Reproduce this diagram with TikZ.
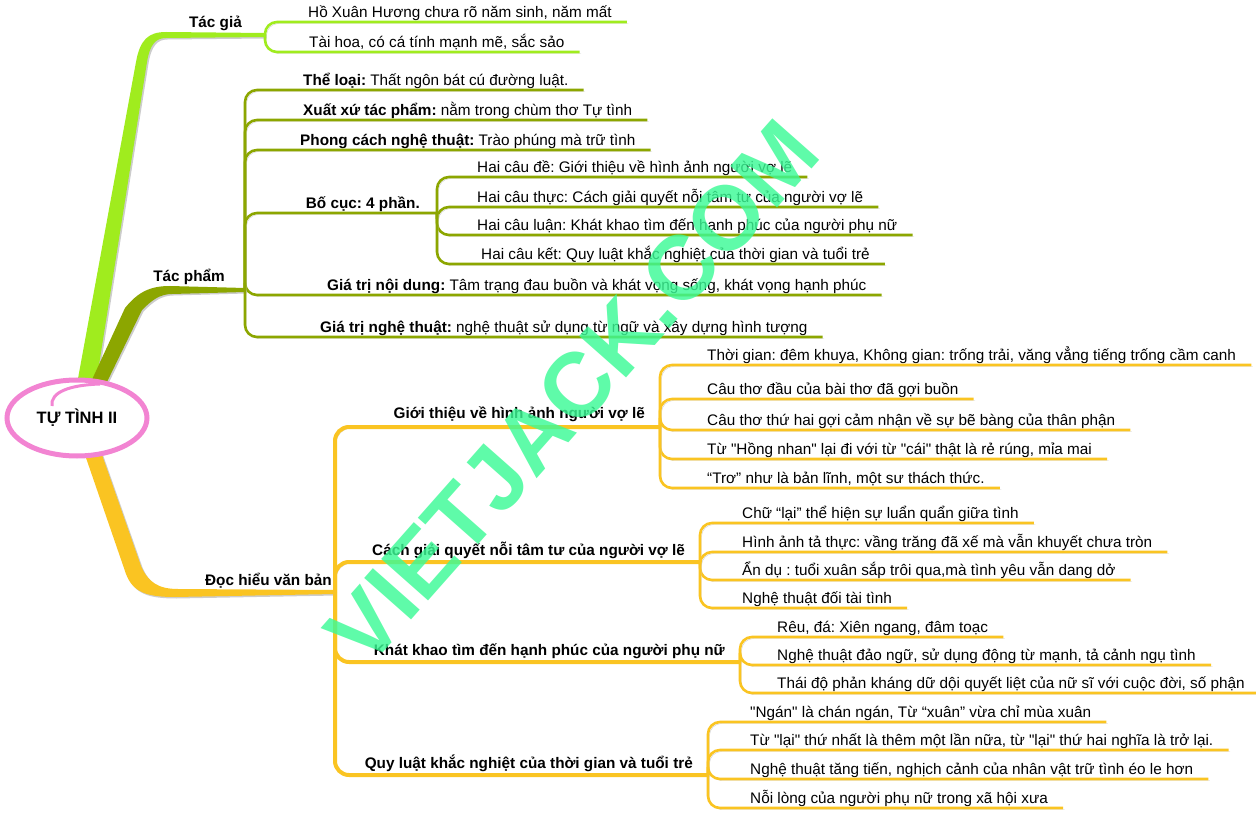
\documentclass[tikz,border=0pt]{standalone}
\usepackage{fontspec}
\setmainfont{Liberation Sans}[Ligatures=TeXOff]
\frenchspacing
\usetikzlibrary{calc,positioning,shapes.geometric}
\definecolor{tgGreen}{RGB}{160,236,30}
\definecolor{tpOlive}{RGB}{140,166,0}
\definecolor{dhYellow}{RGB}{250,196,34}
\definecolor{rootPink}{RGB}{242,132,210}
\definecolor{wmGreen}{RGB}{60,250,150}
\tikzset{
  shadowed/.style={preaction={draw=black!20, transform canvas={shift={(1.5pt,-1.5pt)}}}},
  limbshadow/.style={preaction={fill=black!20, transform canvas={shift={(1.5pt,-1.5pt)}}}},
  root/.style={ellipse, draw=rootPink, fill=white, line width=5pt, minimum width=140pt,
    minimum height=76pt, font=\bfseries\fontsize{16.5}{20}\selectfont},
  leaf/.style={anchor=south west, inner xsep=0pt, inner ysep=4pt, text depth=0pt,
    font=\fontsize{15.3}{18}\selectfont},
  topic/.style={inner sep=0pt, text depth=0pt, font=\bfseries\fontsize{15.3}{18}\selectfont},
  twig/.style={line width=2.6pt, rounded corners=12pt, shadowed},
  bough/.style={line width=4pt, rounded corners=14pt, shadowed},
  watermark/.style={text=wmGreen, opacity=0.82, font=\bfseries\fontsize{91}{100}\selectfont}
}

\begin{document}
\begin{tikzpicture}[x=1pt,y=-1pt]
  \useasboundingbox (0,0) rectangle (1256,818);

  % main limbs
  \fill[tgGreen, limbshadow] (77,384) -- (136,62) .. controls (140,40) and (148,32) .. (166,32)
    -- (265,33) -- (265,37) -- (166,38) .. controls (156,38) and (150,44) .. (147,62) -- (96,384) -- cycle;
  \fill[tpOlive, limbshadow] (90,384) -- (125,308) .. controls (138,292) and (150,286) .. (170,286)
    -- (245,288) -- (245,292) -- (172,294) .. controls (160,294) and (152,300) .. (142,310) -- (106,384) -- cycle;
  \fill[dhYellow, limbshadow] (84,452) -- (126,574) .. controls (133,592) and (146,597) .. (175,597)
    -- (335,594) -- (335,590) -- (178,589) .. controls (158,589) and (148,582) .. (141,566) -- (101,452) -- cycle;

  \node[root] (root) at (77,418) {TỰ TÌNH II};
  \draw[rootPink, line width=3pt] (52,406) .. controls (50,392) and (70,385) .. (100,384);

  \coordinate (tg) at (265,35);
  \coordinate (tp) at (245,290);
  \coordinate (dh) at (335,592);
  \node[topic, above left=7pt and 23pt of tg] {Tác giả};
  \node[topic, above left=8pt and 20pt of tp] {Tác phẩm};
  \node[topic, above left=6pt and 3pt of dh] {Đọc hiểu văn bản};

  % Tác giả
  \node[leaf] (tg1) at (308,22) {Hồ Xuân Hương chưa rõ năm sinh, năm mất};
  \node[leaf] (tg2) at (309,52) {Tài hoa, có cá tính mạnh mẽ, sắc sảo};
  \draw[twig, tgGreen] (tg) |- ($(tg1.south east)+(15,0)$);
  \draw[twig, tgGreen] (tg) |- ($(tg2.south east)+(15,0)$);

  % Tác phẩm
  \node[leaf] (tp1) at (303,90) {\textbf{Thể loại:} Thất ngôn bát cú đường luật.};
  \node[leaf] (tp2) at (303,120) {\textbf{Xuất xứ tác phẩm:} nằm trong chùm thơ Tự tình};
  \node[leaf] (tp3) at (300,150) {\textbf{Phong cách nghệ thuật:} Trào phúng mà trữ tình};
  \node[leaf] (tp4) at (327,295) {\textbf{Giá trị nội dung:} Tâm trạng đau buồn và khát vọng sống, khát vọng hạnh phúc};
  \node[leaf] (tp5) at (320,337) {\textbf{Giá trị nghệ thuật:} nghệ thuật sử dụng từ ngữ và xây dựng hình tượng};
  \foreach \n in {tp1,tp2,tp3,tp4,tp5}
    \draw[twig, tpOlive] (tp) |- ($(\n.south east)+(15,0)$);

  \coordinate (bc) at (437,213);
  \draw[twig, tpOlive] (tp) |- (bc);
  \node[topic, above left=4pt and 17pt of bc] {Bố cục: 4 phần.};
  \node[leaf] (bc1) at (477,177) {Hai câu đề: Giới thiệu về hình ảnh người vợ lẽ};
  \node[leaf] (bc2) at (477,207) {Hai câu thực: Cách giải quyết nỗi tâm tư của người vợ lẽ};
  \node[leaf] (bc3) at (477,235) {Hai câu luận: Khát khao tìm đến hạnh phúc của người phụ nữ};
  \node[leaf] (bc4) at (481,264) {Hai câu kết: Quy luật khắc nghiệt của thời gian và tuổi trẻ};
  \foreach \n in {bc1,bc2,bc3,bc4}
    \draw[twig, tpOlive] (bc) |- ($(\n.south east)+(15,0)$);

  % Đọc hiểu văn bản
  \coordinate (gt) at (660,427);
  \coordinate (cg) at (700,562);
  \coordinate (kk) at (740,662);
  \coordinate (ql) at (708,775);
  \foreach \n in {gt,cg,kk,ql}
    \draw[bough, dhYellow] (dh) |- (\n);
  \node[topic, above left=8pt and 15pt of gt] {Giới thiệu về hình ảnh người vợ lẽ};
  \node[topic, above left=6pt and 15pt of cg] {Cách giải quyết nỗi tâm tư của người vợ lẽ};
  \node[topic, above left=6pt and 15pt of kk] {Khát khao tìm đến hạnh phúc của người phụ nữ};
  \node[topic, above left=6pt and 15pt of ql] {Quy luật khắc nghiệt của thời gian và tuổi trẻ};

  \node[leaf] (gt1) at (707,365) {Thời gian: đêm khuya, Không gian: trống trải, văng vẳng tiếng trống cầm canh};
  \node[leaf] (gt2) at (707,399) {Câu thơ đầu của bài thơ đã gợi buồn};
  \node[leaf] (gt3) at (707,430) {Câu thơ thứ hai gợi cảm nhận về sự bẽ bàng của thân phận};
  \node[leaf] (gt4) at (707,459) {Từ "Hồng nhan" lại đi với từ "cái" thật là rẻ rúng, mỉa mai};
  \node[leaf] (gt5) at (707,488) {“Trơ” như là bản lĩnh, một sư thách thức.};
  \foreach \n in {gt1,gt2,gt3,gt4,gt5}
    \draw[twig, dhYellow] (gt) |- ($(\n.south east)+(15,0)$);

  \node[leaf] (cg1) at (742,523) {Chữ “lại” thể hiện sự luẩn quẩn giữa tình};
  \node[leaf] (cg2) at (742,552) {Hình ảnh tả thực: vầng trăng đã xế mà vẫn khuyết chưa tròn};
  \node[leaf] (cg3) at (742,580) {Ẩn dụ : tuổi xuân sắp trôi qua,mà tình yêu vẫn dang dở};
  \node[leaf] (cg4) at (742,608) {Nghệ thuật đối tài tình};
  \foreach \n in {cg1,cg2,cg3,cg4}
    \draw[twig, dhYellow] (cg) |- ($(\n.south east)+(15,0)$);

  \node[leaf] (kk1) at (777,637) {Rêu, đá: Xiên ngang, đâm toạc};
  \node[leaf] (kk2) at (777,665) {Nghệ thuật đảo ngữ, sử dụng động từ mạnh, tả cảnh ngụ tình};
  \node[leaf] (kk3) at (777,693) {Thái độ phản kháng dữ dội quyết liệt của nữ sĩ với cuộc đời, số phận};
  \foreach \n in {kk1,kk2,kk3}
    \draw[twig, dhYellow] (kk) |- ($(\n.south east)+(15,0)$);

  \node[leaf] (ql1) at (750,722) {"Ngán" là chán ngán, Từ “xuân” vừa chỉ mùa xuân};
  \node[leaf] (ql2) at (750,750) {Từ "lại" thứ nhất là thêm một lần nữa, từ "lại" thứ hai nghĩa là trở lại.};
  \node[leaf] (ql3) at (750,779) {Nghệ thuật tăng tiến, nghịch cảnh của nhân vật trữ tình éo le hơn};
  \node[leaf] (ql4) at (750,808) {Nỗi lòng của người phụ nữ trong xã hội xưa};
  \foreach \n in {ql1,ql2,ql3,ql4}
    \draw[twig, dhYellow] (ql) |- ($(\n.south east)+(15,0)$);

  % watermark
  \node[watermark, rotate=48.5] (wm) at (572,392) {VIETJACK.COM};
\end{tikzpicture}
\end{document}
